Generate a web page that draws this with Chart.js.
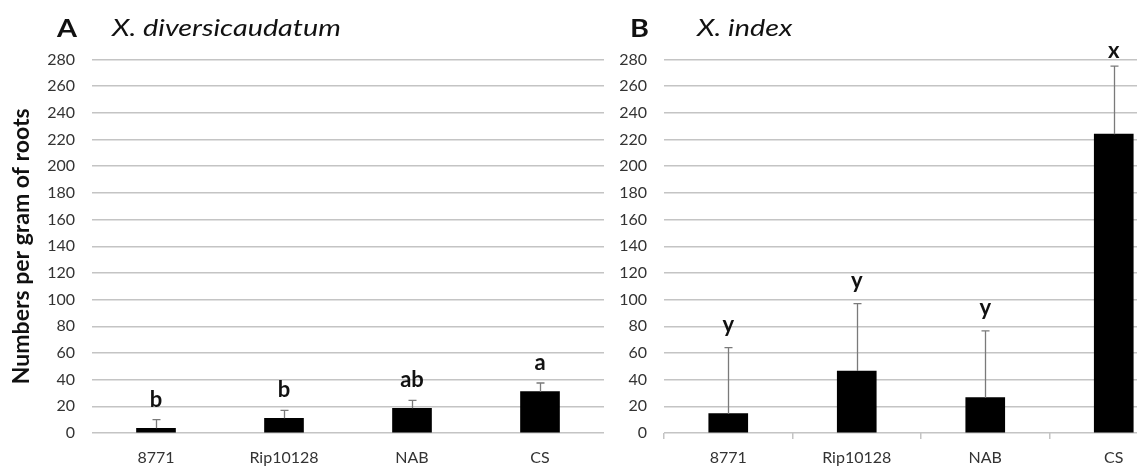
<!DOCTYPE html>
<html>
<head>
<meta charset="utf-8">
<script src="https://cdn.jsdelivr.net/npm/chart.js@4"></script>
<style>
    html, body { margin: 0; padding: 0; background: #fff; overflow: hidden; width: 1137px; height: 466px; }
    #wrap { position: relative; width: 1137px; height: 466px; overflow: hidden; font-family: Lato, sans-serif; }
    canvas { position: absolute; top: 0; }
    #chartA { left: 0; }
    #chartB { left: 572px; }
    .panel { position: absolute; top: 12px; font-size: 25px; font-weight: bold; color: #111; transform: scaleX(1.15); transform-origin: left top; }
    .species { position: absolute; top: 12px; font-size: 24px; font-style: italic; color: #111; transform: scaleX(1.2); transform-origin: left top; }
</style>
</head>
<body>
<div id="wrap">
    <canvas id="chartA" width="610" height="466"></canvas>
    <canvas id="chartB" width="612" height="466"></canvas>
    <div class="panel" style="left:57px">A</div>
    <div class="species" style="left:112px">X. diversicaudatum</div>
    <div class="panel" style="left:630px">B</div>
    <div class="species" style="left:697px">X. index</div>
</div>
<script>
const categories = ['8771', 'Rip10128', 'NAB', 'CS'];

const meansA = [3.5, 11, 18.5, 31];
const sdA = [6.5, 6, 6, 6.5];
const lettersA = ['b', 'b', 'ab', 'a'];

const meansB = [14.5, 46.5, 26.5, 224];
const sdB = [49.5, 50.5, 50, 51];
const lettersB = ['y', 'y', 'y', 'x'];

const yMin = 0;
const yMax = 280;
const yStep = 20;

Chart.defaults.font.family = 'Lato, sans-serif';
Chart.defaults.color = '#333';

const GRID = '#c4c4c4';

// error bars (upper only) plus significance letters
const errorBarsPlugin = {
    id: 'errorBars',
    afterDatasetsDraw(chart, args, opts) {
        const ctx = chart.ctx;
        const yScale = chart.scales.y;
        const meta = chart.getDatasetMeta(0);
        ctx.save();
        meta.data.forEach((bar, i) => {
            const top = yScale.getPixelForValue(opts.means[i] + opts.sd[i]);
            const x = Math.round(bar.x) + 0.5;
            ctx.strokeStyle = '#7a7a7a';
            ctx.lineWidth = 1.3;
            ctx.beginPath();
            ctx.moveTo(x, bar.y);
            ctx.lineTo(x, top);
            ctx.moveTo(x - 4, top);
            ctx.lineTo(x + 4, top);
            ctx.stroke();

            ctx.fillStyle = '#111';
            ctx.font = 'bold 22px Lato, sans-serif';
            ctx.textAlign = 'center';
            ctx.textBaseline = 'alphabetic';
            ctx.fillText(opts.letters[i], bar.x, Math.max(top - opts.offset, 58));
        });
        ctx.restore();
    }
};

function makeChart(id, means, sd, letters, isB) {
    const ctx = document.getElementById(id).getContext('2d');
    return new Chart(ctx, {
        type: 'bar',
        data: {
            labels: categories,
            datasets: [{ data: means, backgroundColor: '#000', borderWidth: 0, barThickness: 39 }]
        },
        options: {
            responsive: false,
            animation: false,
            layout: { padding: { top: 59.5, right: 6, bottom: 0, left: 0 } },
            plugins: {
                legend: { display: false },
                tooltip: { enabled: false },
                errorBars: { means: means, sd: sd, letters: letters, offset: isB ? 16 : 13 }
            },
            scales: {
                x: {
                    grid: isB
                        ? { display: true, drawOnChartArea: false, drawTicks: true, tickLength: 6, color: GRID, lineWidth: 1.5, offset: true }
                        : { display: false, drawTicks: false },
                    border: { display: false },
                    ticks: { padding: isB ? 9 : 15, font: { size: 16 }, color: '#333', maxRotation: 0 },
                    afterFit: s => { s.height = 33; }
                },
                y: {
                    min: yMin,
                    max: yMax,
                    grid: { color: GRID, lineWidth: 1.5, drawTicks: false },
                    border: { display: false },
                    ticks: { stepSize: yStep, padding: 17, font: { size: 16 }, color: '#333' },
                    title: isB ? { display: false } : {
                        display: true,
                        text: 'Numbers per gram of roots',
                        font: { size: 23, weight: 'bold' },
                        color: '#111',
                        padding: { top: 8, bottom: 0 }
                    },
                    afterFit: s => { s.width = 92; }
                }
            }
        },
        plugins: [errorBarsPlugin]
    });
}

makeChart('chartA', meansA, sdA, lettersA, false);
makeChart('chartB', meansB, sdB, lettersB, true);
</script>
</body>
</html>
